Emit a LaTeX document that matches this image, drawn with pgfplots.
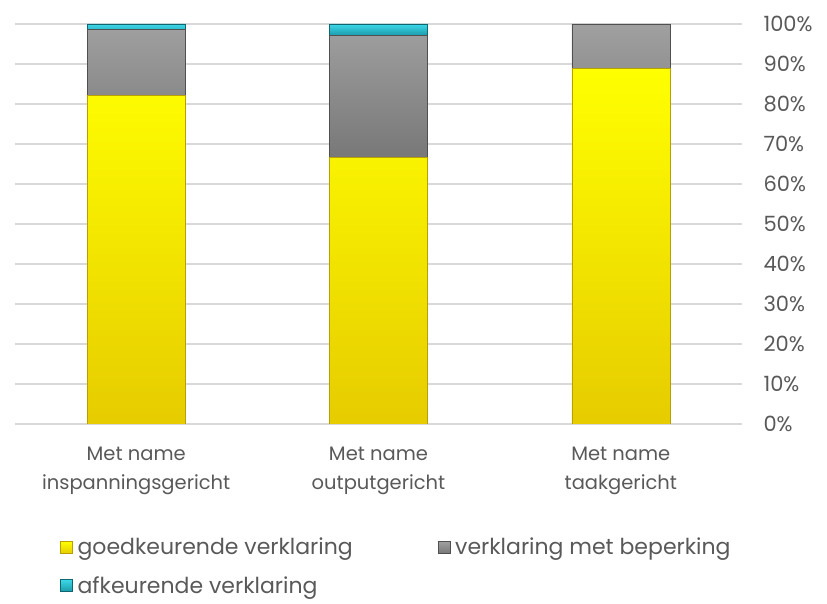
\documentclass[border=0pt]{standalone}
\usepackage{pgfplots}
\pgfplotsset{compat=1.18}
\usepackage{fontspec}
\setmainfont{Poppins}
\definecolor{txt}{HTML}{595959}
\definecolor{gridc}{HTML}{D9D9D9}
\definecolor{yelT}{HTML}{FFFF00}
\definecolor{yelB}{HTML}{E6CC00}
\definecolor{yelD}{HTML}{B8A000}
\definecolor{gryT}{HTML}{A0A0A0}
\definecolor{gryB}{HTML}{787878}
\definecolor{gryD}{HTML}{505050}
\definecolor{tealT}{HTML}{3DD8E8}
\definecolor{tealB}{HTML}{1A9AAA}
\definecolor{tealD}{HTML}{0E6670}
\begin{document}
\begin{tikzpicture}[x=1pt,y=1pt]
\useasboundingbox (0,0) rectangle (827,604);
\begin{axis}[
  at={(15pt,180pt)}, anchor=south west,
  scale only axis, width=727pt, height=400pt,
  xmin=-0.5, xmax=2.5, ymin=0, ymax=100,
  ybar stacked, bar width=98pt,
  axis line style={draw=none},
  ymajorgrids, grid style={color=gridc, line width=1.6pt},
  major tick length=0pt,
  ytick={0,10,...,100},
  yticklabel pos=right,
  yticklabel={\pgfmathparse{int(\tick)}\pgfmathresult\%},
  yticklabel style={anchor=west, xshift=18pt, text=txt, font=\fontsize{21}{24}\selectfont},
  xtick={0,1,2},
  xticklabels={{Met name\\inspanningsgericht},{Met name\\outputgericht},{Met name\\taakgericht}},
  xticklabel style={align=center, text=txt, font=\fontsize{19.5}{29}\selectfont, yshift=-19pt},
  legend columns=2,
  legend style={at={(0.0578,-0.275)}, anchor=north west, draw=none, fill=none,
    font=\fontsize{22}{26}\selectfont, text=txt,
    /tikz/every even column/.append style={column sep=83pt},
    /tikz/every odd column/.append style={column sep=3pt},
    row sep=16pt},
  legend cell align=left,
]
\addplot[draw=yelD, top color=yelT, bottom color=yelB,
  legend image code/.code={\draw[draw=yelD, top color=yelT, bottom color=yelB] (0pt,-6pt) rectangle (12pt,6pt);}]
  coordinates {(0,82.2) (1,66.7) (2,88.9)};
\addlegendentry{goedkeurende verklaring}
\addplot[draw=gryD, top color=gryT, bottom color=gryB,
  legend image code/.code={\draw[draw=gryD, top color=gryT, bottom color=gryB] (0pt,-6pt) rectangle (12pt,6pt);}]
  coordinates {(0,16.4) (1,30.4) (2,11.1)};
\addlegendentry{verklaring met beperking}
\addplot[draw=tealD, top color=tealT, bottom color=tealB,
  legend image code/.code={\draw[draw=tealD, top color=tealT, bottom color=tealB] (0pt,-6pt) rectangle (12pt,6pt);}]
  coordinates {(0,1.4) (1,2.9) (2,0)};
\addlegendentry{afkeurende verklaring}
\end{axis}
\end{tikzpicture}
\end{document}
